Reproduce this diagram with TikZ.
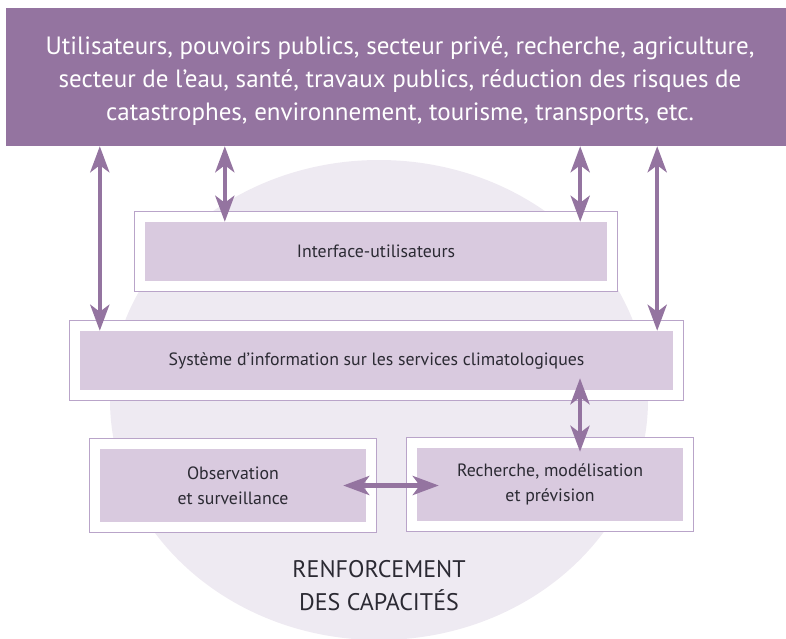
\documentclass[tikz,border=0pt]{standalone}
\usepackage{fontspec}
\setmainfont{PT Sans}
\usetikzlibrary{calc, positioning, fit, backgrounds, arrows.meta}
\definecolor{plum}{RGB}{148,116,160}
\definecolor{lilac}{RGB}{217,202,223}
\definecolor{mist}{RGB}{238,234,242}
\definecolor{edge}{RGB}{185,164,201}
\definecolor{ink}{RGB}{43,42,51}
\tikzset{
  font=\fontsize{17.8}{25}\selectfont,
  % Set arrowhead
  >={Stealth[length=26pt, width=19pt, inset=7pt]},
  % Two-way exchange
  link/.style={<->, draw=plum, line width=4.5pt},
  % Filled component
  block/.style={fill=lilac, text=ink, align=center, inner sep=0pt,
    minimum height=59pt},
  % Frame round a component
  frame/.style={draw=edge, fill=white, line width=1.5pt, inner sep=10.5pt},
  % Users banner
  banner/.style={fill=plum, inner sep=0pt, minimum width=780pt,
    minimum height=138pt},
  bannertext/.style={text=white, align=center, inner sep=0pt,
    font=\fontsize{25}{33}\selectfont},
}

\begin{document}
\begin{tikzpicture}[x=1pt, y=-1pt]
  \useasboundingbox (0,0) rectangle (786,638);

  \node[banner] (users) at (396,77) {};
  \node[bannertext] (usertext) at ([xshift=4pt, yshift=-4pt]users.center) {Utilisateurs,
    pouvoirs publics, secteur privé, recherche, agriculture,\\ secteur de
    l’eau, santé, travaux publics, réduction des risques de\\ catastrophes,
    environnement, tourisme, transports, etc.};

  \node[block, minimum width=462pt] (iface) at (376,251.5) {Interface-utilisateurs};
  \node[block, minimum width=593pt] (sis) at (376.5,360.5)
    {Système d’information sur les services climatologiques};
  \node[block, minimum width=266pt, minimum height=73pt] (obs) at (233,485.5)
    {Observation\\ et surveillance};
  \node[block, minimum width=266pt, minimum height=73pt] (rech) at (550,484.5)
    {Recherche, modélisation\\ et prévision};

  \node[text=ink, align=center, font=\fontsize{24}{33}\selectfont] (cb) at (379,586)
    {RENFORCEMENT\\ DES CAPACITÉS};

  \begin{scope}[on background layer]
    \clip (0,0) rectangle (786,638);
    \fill[mist] (379,400) ellipse [x radius=269, y radius=240];
    \node[frame, fit=(iface)] {};
    \node[frame, fit=(sis)] {};
    \node[frame, fit=(obs)] {};
    \node[frame, fit=(rech)] {};
  \end{scope}

  % links to the users
  \draw[link] ([xshift=20pt]sis.north west |- users.south) -- ([xshift=20pt]sis.north west);
  \draw[link] ([xshift=80pt]iface.north west |- users.south) -- ([xshift=80pt]iface.north west);
  \draw[link] ([xshift=-27pt]iface.north east |- users.south) -- ([xshift=-27pt]iface.north east);
  \draw[link] ([xshift=-16pt]sis.north east |- users.south) -- ([xshift=-16pt]sis.north east);

  % links between components
  \draw[link] ($(rech.north |- sis.south)+(30,-12)$) -- ($(rech.north)+(30,4)$);
  \draw[link] ([xshift=-23pt]obs.east) -- ([xshift=22pt]rech.west |- obs.east);
\end{tikzpicture}
\end{document}
